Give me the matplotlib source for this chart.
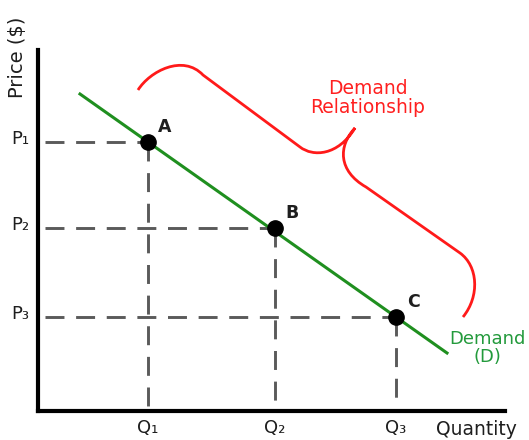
import matplotlib
matplotlib.use("Agg")
import matplotlib.pyplot as plt
from matplotlib.path import Path
from matplotlib.patches import PathPatch

# Data (diagram units)
point_labels = ["A", "B", "C"]
quantities = [110, 237, 358]
prices = [269, 183, 94]
price_labels = ["P\u2081", "P\u2082", "P\u2083"]
quantity_labels = ["Q\u2081", "Q\u2082", "Q\u2083"]
demand_x = [42, 409]
demand_y = [317, 58]
brace_pts = [(100, 321), (112, 340), (145, 357), (165, 336),
             (262, 264), (275, 254), (300, 255), (317, 283),
             (300, 265), (300, 240), (328, 224),
             (422, 158), (440, 145), (442, 115), (425, 94)]
brace_codes = [Path.MOVETO, Path.CURVE4, Path.CURVE4, Path.CURVE4,
               Path.LINETO, Path.CURVE4, Path.CURVE4, Path.CURVE4,
               Path.CURVE4, Path.CURVE4, Path.CURVE4,
               Path.LINETO, Path.CURVE4, Path.CURVE4, Path.CURVE4]

W, H = 529, 440
fig = plt.figure(figsize=(W / 100, H / 100), dpi=100)
ax = fig.add_axes([38 / W, (H - 411) / H, (505 - 38) / W, (411 - 50) / H])
ax.set_xlim(0, 467)
ax.set_ylim(0, 361)
for s in ["top", "right"]:
    ax.spines[s].set_visible(False)
for s in ["left", "bottom"]:
    ax.spines[s].set_linewidth(3)
    ax.spines[s].set_color("black")
ax.set_xticks([])
ax.set_yticks([])

dash_col = "#5a5a5a"
for q, p in zip(quantities, prices):
    ax.plot([7, q], [p, p], color=dash_col, lw=2.1, dashes=(6.5, 4), zorder=1)
    ax.plot([q, q], [p, 0], color=dash_col, lw=2.1, dashes=(6.5, 4), zorder=1)

ax.plot(demand_x, demand_y, color="#1f8f1f", lw=2.2, zorder=2)
ax.plot(quantities, prices, "o", color="black", ms=11, zorder=3)

txt = "#1e1e1e"
fs = 13
for lab, q, p in zip(point_labels, quantities, prices):
    ax.text(q + 17, p + 15, lab, fontsize=12.5, fontweight="bold", color=txt,
            ha="center", va="center")

for lab, p in zip(price_labels, prices):
    ax.text(-18, p + 3, lab, fontsize=fs, color=txt,
            ha="center", va="center", clip_on=False)
for lab, q in zip(quantity_labels, quantities):
    ax.text(q, -17, lab, fontsize=fs, color=txt,
            ha="center", va="center", clip_on=False)

ax.text(438, -18, "Quantity", fontsize=13.5, color=txt,
        ha="center", va="center", clip_on=False)
ax.text(-21, 354, "Price ($)", fontsize=14, color=txt,
        rotation=90, ha="center", va="center", clip_on=False)

brace = PathPatch(Path(brace_pts, brace_codes), fill=False, edgecolor="#ff1a1a",
                  lw=2, zorder=2)
ax.add_patch(brace)
ax.text(330, 313, "Demand\nRelationship", fontsize=13.5,
        color="#ff2020", ha="center", va="center", linespacing=1.05)
ax.text(449, 63, "Demand\n(D)", fontsize=13, color="#239a3c",
        ha="center", va="center", linespacing=1.05, clip_on=False)

fig.savefig("out.png", dpi=100)
